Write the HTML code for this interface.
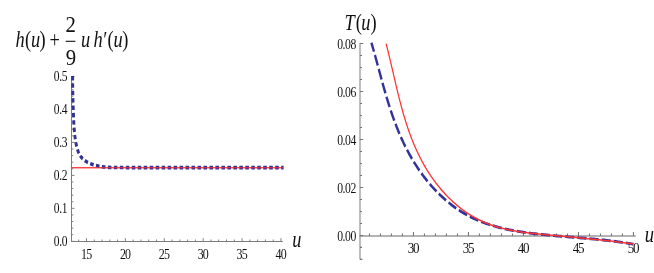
<!DOCTYPE html>
<html><head><meta charset="utf-8"><title>plots</title>
<style>
html,body{margin:0;padding:0;background:#fff;}
svg{display:block;will-change:transform;}
text{font-family:"Liberation Serif",serif;fill:#111;filter:grayscale(1);}
.tk{font-size:13.6px;}
.it{font-style:italic;}
</style></head><body>
<svg width="654" height="273" viewBox="0 0 654 273">
<rect width="654" height="273" fill="#fff"/>
<path d="M71.5 76.2 V242.0 M71.0 241.5 H282.8" stroke="#7c7c7c" stroke-width="1" fill="none"/>
<path d="M71.5 241.3 h3.0 M71.5 234.71 h1.8 M71.5 228.12 h1.8 M71.5 221.52 h1.8 M71.5 214.93 h1.8 M71.5 208.34 h3.0 M71.5 201.75 h1.8 M71.5 195.16 h1.8 M71.5 188.56 h1.8 M71.5 181.97 h1.8 M71.5 175.38 h3.0 M71.5 168.79 h1.8 M71.5 162.2 h1.8 M71.5 155.6 h1.8 M71.5 149.01 h1.8 M71.5 142.42 h3.0 M71.5 135.83 h1.8 M71.5 129.24 h1.8 M71.5 122.64 h1.8 M71.5 116.05 h1.8 M71.5 109.46 h3.0 M71.5 102.87 h1.8 M71.5 96.28 h1.8 M71.5 89.68 h1.8 M71.5 83.09 h1.8 M71.5 76.5 h3.0 M78.69 241.5 v-2.0 M86.47 241.5 v-3.3 M94.25 241.5 v-2.0 M102.03 241.5 v-2.0 M109.81 241.5 v-2.0 M117.59 241.5 v-2.0 M125.37 241.5 v-3.3 M133.15 241.5 v-2.0 M140.93 241.5 v-2.0 M148.71 241.5 v-2.0 M156.49 241.5 v-2.0 M164.27 241.5 v-3.3 M172.05 241.5 v-2.0 M179.83 241.5 v-2.0 M187.61 241.5 v-2.0 M195.39 241.5 v-2.0 M203.17 241.5 v-3.3 M210.95 241.5 v-2.0 M218.73 241.5 v-2.0 M226.51 241.5 v-2.0 M234.29 241.5 v-2.0 M242.07 241.5 v-3.3 M249.85 241.5 v-2.0 M257.63 241.5 v-2.0 M265.41 241.5 v-2.0 M273.19 241.5 v-2.0 M280.97 241.5 v-3.3" stroke="#808080" stroke-width="1" fill="none"/>
<text class="tk" style="letter-spacing:-0.42px" text-anchor="end" transform="translate(67.14 245.75) scale(0.85 1)">0.0</text>
<text class="tk" style="letter-spacing:-0.42px" text-anchor="end" transform="translate(67.14 212.79) scale(0.85 1)">0.1</text>
<text class="tk" style="letter-spacing:-0.42px" text-anchor="end" transform="translate(67.14 179.83) scale(0.85 1)">0.2</text>
<text class="tk" style="letter-spacing:-0.42px" text-anchor="end" transform="translate(67.14 146.87) scale(0.85 1)">0.3</text>
<text class="tk" style="letter-spacing:-0.42px" text-anchor="end" transform="translate(67.14 113.91) scale(0.85 1)">0.4</text>
<text class="tk" style="letter-spacing:-0.42px" text-anchor="end" transform="translate(67.14 80.95) scale(0.85 1)">0.5</text>
<text class="tk" style="letter-spacing:-0.95px" text-anchor="middle" transform="translate(86.15 258.8) scale(0.88 1)">15</text>
<text class="tk" style="letter-spacing:-0.95px" text-anchor="middle" transform="translate(125.05 258.8) scale(0.88 1)">20</text>
<text class="tk" style="letter-spacing:-0.95px" text-anchor="middle" transform="translate(163.95 258.8) scale(0.88 1)">25</text>
<text class="tk" style="letter-spacing:-0.95px" text-anchor="middle" transform="translate(202.85 258.8) scale(0.88 1)">30</text>
<text class="tk" style="letter-spacing:-0.95px" text-anchor="middle" transform="translate(241.75 258.8) scale(0.88 1)">35</text>
<text class="tk" style="letter-spacing:-0.95px" text-anchor="middle" transform="translate(280.65 258.8) scale(0.88 1)">40</text>
<text class="it" style="font-size:22.6px" text-anchor="start" transform="translate(292.3 246.6) scale(0.81 1)">u</text>
<path d="M71.3 167.7 H282.8" stroke="#fb3535" stroke-width="1.1" fill="none"/>
<g transform="scale(0.81 1)"><path d="M89.64 75.99 L89.65 76.96 L89.66 77.92 L89.67 78.89 L89.68 79.85 L89.69 80.81 L89.7 81.78 L89.71 82.74 L89.72 83.7 L89.74 84.66 L89.75 85.63 L89.77 86.59 L89.78 87.55 L89.8 88.51 L89.82 89.47 L89.83 90.44 L89.85 91.4 L89.88 92.36 L89.9 93.32 L89.92 94.28 L89.94 95.24 L89.97 96.2 L89.99 97.16 L90.02 98.12 L90.05 99.08 L90.08 100.04 L90.11 101 L90.14 101.96 L90.17 102.92 L90.21 103.88 L90.24 104.84 L90.28 105.8 L90.32 106.76 L90.36 107.72 L90.4 108.68 L90.44 109.63 L90.49 110.59 L90.53 111.55 L90.58 112.51 L90.63 113.47 L90.68 114.43 L90.73 115.39 L90.78 116.34 L90.83 117.3 L90.89 118.26 L90.95 119.22 L91.01 120.17 L91.07 121.13 L91.13 122.09 L91.19 123.05 L91.26 124 L91.33 124.96 L91.4 125.92 L91.47 126.88 L91.55 127.83 L91.63 128.79 L91.71 129.75 L91.8 130.71 L91.9 131.66 L92.01 132.62 L92.12 133.58 L92.24 134.53 L92.36 135.49 L92.5 136.45 L92.65 137.4 L92.81 138.36 L92.98 139.32 L93.16 140.27 L93.35 141.23 L93.56 142.19 L93.77 143.14 L94.01 144.1 L94.26 145.06 L94.52 146.01 L94.8 146.97 L95.11 147.92 L95.43 148.86 L95.79 149.8 L96.17 150.72 L96.58 151.64 L97.03 152.53 L97.51 153.41 L98.03 154.27 L98.6 155.1 L99.21 155.91 L99.87 156.69 L100.58 157.43 L101.33 158.14 L102.14 158.81 L103 159.45 L103.89 160.05 L104.83 160.63 L105.79 161.17 L106.8 161.68 L107.82 162.16 L108.88 162.61 L109.95 163.04 L111.04 163.44 L112.14 163.82 L113.25 164.17 L114.37 164.5 L115.5 164.81 L116.63 165.09 L117.76 165.36 L118.9 165.6 L120.04 165.83 L121.19 166.04 L122.34 166.23 L123.5 166.4 L124.66 166.56 L125.82 166.71 L126.99 166.84 L128.16 166.95 L129.33 167.05 L130.51 167.14 L131.69 167.22 L132.87 167.29 L134.05 167.35 L135.23 167.4 L136.42 167.44 L137.61 167.48 L138.8 167.5 L139.99 167.52 L141.18 167.54 L142.37 167.55 L143.57 167.56 L144.76 167.56 L145.96 167.57 L147.15 167.57 L148.34 167.57 L149.54 167.57 L150.73 167.57 L151.93 167.57 L153.12 167.57 L154.31 167.57 L155.51 167.57 L156.7 167.58 L157.89 167.58 L159.08 167.58 L160.27 167.58 L161.47 167.58 L162.66 167.58 L163.85 167.58 L165.04 167.58 L166.23 167.58 L167.42 167.58 L168.61 167.58 L169.8 167.58 L170.99 167.58 L172.18 167.58 L173.37 167.58 L174.56 167.59 L175.75 167.59 L176.94 167.59 L178.13 167.59 L179.32 167.59 L180.51 167.59 L181.7 167.59 L182.89 167.59 L184.08 167.59 L185.26 167.59 L186.45 167.59 L187.64 167.59 L188.83 167.59 L190.02 167.59 L191.2 167.59 L192.39 167.59 L193.58 167.59 L194.77 167.59 L195.95 167.59 L197.14 167.59 L198.33 167.59 L199.51 167.6 L200.7 167.6 L201.89 167.6 L203.07 167.6 L204.26 167.6 L205.44 167.6 L206.63 167.6 L207.82 167.6 L209 167.6 L210.19 167.6 L211.37 167.6 L212.56 167.6 L213.74 167.6 L214.93 167.6 L216.11 167.6 L217.3 167.6 L218.48 167.6 L219.67 167.6 L220.85 167.6 L222.04 167.6 L223.22 167.6 L224.41 167.6 L225.59 167.6 L226.78 167.6 L227.96 167.6 L229.14 167.6 L230.33 167.6 L231.51 167.6 L232.7 167.6 L233.88 167.6 L235.07 167.6 L236.25 167.6 L237.43 167.6 L238.62 167.6 L239.8 167.6 L240.99 167.6 L242.17 167.6 L243.35 167.6 L244.54 167.6 L245.72 167.6 L246.91 167.6 L248.09 167.6 L249.27 167.6 L250.46 167.6 L251.64 167.6 L252.82 167.6 L254.01 167.6 L255.19 167.6 L256.38 167.6 L257.56 167.6 L258.74 167.6 L259.93 167.6 L261.11 167.6 L262.29 167.6 L263.48 167.6 L264.66 167.6 L265.85 167.6 L267.03 167.6 L268.21 167.6 L269.4 167.6 L270.58 167.6 L271.77 167.6 L272.95 167.6 L274.13 167.6 L275.32 167.6 L276.5 167.6 L277.69 167.6 L278.87 167.6 L280.06 167.6 L281.24 167.6 L282.43 167.6 L283.61 167.6 L284.8 167.6 L285.98 167.6 L287.16 167.6 L288.35 167.6 L289.53 167.6 L290.72 167.6 L291.9 167.6 L293.09 167.6 L294.28 167.6 L295.46 167.6 L296.65 167.6 L297.83 167.6 L299.02 167.6 L300.2 167.6 L301.39 167.6 L302.58 167.6 L303.76 167.6 L304.95 167.6 L306.13 167.6 L307.32 167.6 L308.51 167.6 L309.69 167.6 L310.88 167.6 L312.07 167.6 L313.26 167.6 L314.44 167.6 L315.63 167.6 L316.82 167.6 L318.01 167.6 L319.19 167.6 L320.38 167.6 L321.57 167.6 L322.76 167.6 L323.95 167.6 L325.14 167.6 L326.32 167.6 L327.51 167.6 L328.7 167.6 L329.89 167.6 L331.08 167.6 L332.27 167.6 L333.46 167.6 L334.65 167.6 L335.84 167.6 L337.03 167.6 L338.22 167.6 L339.41 167.6 L340.6 167.6 L341.79 167.6 L342.99 167.6 L344.18 167.6 L345.37 167.6 L346.56 167.6 L347.75 167.6 L348.95 167.6 L350.14 167.6" stroke="#323298" stroke-width="3.6" stroke-dasharray="4.42 2.96" stroke-dashoffset="0.0" fill="none"/></g>
<path d="M71.3 167.7 H282.8" stroke="#fb3535" stroke-width="1.1" fill="none" opacity="0.85"/>
<text class="it" style="font-size:23.4px" text-anchor="start" transform="translate(15.4 47.3) scale(0.785 1)">h</text>
<text class="" style="font-size:23.4px" text-anchor="start" transform="translate(25 47.3) scale(0.785 1)">(</text>
<text class="it" style="font-size:23.4px" text-anchor="start" transform="translate(31 47.3) scale(0.785 1)">u</text>
<text class="" style="font-size:23.4px" text-anchor="start" transform="translate(39.6 47.3) scale(0.785 1)">)</text>
<text class="" style="font-size:23.4px" text-anchor="start" transform="translate(49.4 47.3) scale(0.785 1)">+</text>
<text class="" style="font-size:23.6px" text-anchor="start" transform="translate(65.4 31.5) scale(0.88 1)">2</text>
<text class="" style="font-size:23.6px" text-anchor="start" transform="translate(65.8 64.5) scale(0.88 1)">9</text>
<path d="M65.7 41.3 H75.4" stroke="#111" stroke-width="1.1"/>
<text class="it" style="font-size:23.4px" text-anchor="start" transform="translate(81 47.3) scale(0.785 1)">u</text>
<text class="it" style="font-size:23.4px" text-anchor="start" transform="translate(93.6 47.3) scale(0.785 1)">h</text>
<text class="it" style="font-size:23.4px" text-anchor="start" transform="translate(102.2 47.3) scale(0.785 1)">′</text>
<text class="" style="font-size:23.4px" text-anchor="start" transform="translate(107.6 47.3) scale(0.785 1)">(</text>
<text class="it" style="font-size:23.4px" text-anchor="start" transform="translate(113.4 47.3) scale(0.785 1)">u</text>
<text class="" style="font-size:23.4px" text-anchor="start" transform="translate(122.2 47.3) scale(0.785 1)">)</text>
<path d="M360.0 43.0 V259.6" stroke="#828282" stroke-width="1.05" fill="none"/>
<path d="M359.5 235.9 H635.8" stroke="#686868" stroke-width="1.05" fill="none"/>
<path d="M360.0 259.38 h2.4 M360.0 247.39 h2.0 M360.0 235.4 h3.2 M360.0 223.41 h2.0 M360.0 211.42 h2.0 M360.0 199.42 h2.0 M360.0 187.43 h3.2 M360.0 175.44 h2.0 M360.0 163.44 h2.0 M360.0 151.45 h2.0 M360.0 139.46 h3.2 M360.0 127.47 h2.0 M360.0 115.47 h2.0 M360.0 103.48 h2.0 M360.0 91.49 h3.2 M360.0 79.5 h2.0 M360.0 67.5 h2.0 M360.0 55.51 h2.0 M360.0 43.52 h3.2 M369.45 235.9 v-2.5 M380.45 235.9 v-2.5 M391.45 235.9 v-2.5 M402.45 235.9 v-2.5 M413.45 235.9 v-4.0 M424.45 235.9 v-2.5 M435.45 235.9 v-2.5 M446.45 235.9 v-2.5 M457.45 235.9 v-2.5 M468.45 235.9 v-4.0 M479.45 235.9 v-2.5 M490.45 235.9 v-2.5 M501.45 235.9 v-2.5 M512.45 235.9 v-2.5 M523.45 235.9 v-4.0 M534.45 235.9 v-2.5 M545.45 235.9 v-2.5 M556.45 235.9 v-2.5 M567.45 235.9 v-2.5 M578.45 235.9 v-4.0 M589.45 235.9 v-2.5 M600.45 235.9 v-2.5 M611.45 235.9 v-2.5 M622.45 235.9 v-2.5 M633.45 235.9 v-4.0" stroke="#747474" stroke-width="1.05" fill="none"/>
<text class="tk" style="letter-spacing:-0.5px" text-anchor="end" transform="translate(355.87 240.7) scale(0.86 1)">0.00</text>
<text class="tk" style="letter-spacing:-0.5px" text-anchor="end" transform="translate(355.87 192.73) scale(0.86 1)">0.02</text>
<text class="tk" style="letter-spacing:-0.5px" text-anchor="end" transform="translate(355.87 144.76) scale(0.86 1)">0.04</text>
<text class="tk" style="letter-spacing:-0.5px" text-anchor="end" transform="translate(355.87 96.79) scale(0.86 1)">0.06</text>
<text class="tk" style="letter-spacing:-0.5px" text-anchor="end" transform="translate(355.87 48.82) scale(0.86 1)">0.08</text>
<text class="tk" style="font-size:14.2px;letter-spacing:-1.4px" text-anchor="middle" transform="translate(412.91 253.2) scale(0.92 1)">30</text>
<text class="tk" style="font-size:14.2px;letter-spacing:-1.4px" text-anchor="middle" transform="translate(467.91 253.2) scale(0.92 1)">35</text>
<text class="tk" style="font-size:14.2px;letter-spacing:-1.4px" text-anchor="middle" transform="translate(522.91 253.2) scale(0.92 1)">40</text>
<text class="tk" style="font-size:14.2px;letter-spacing:-1.4px" text-anchor="middle" transform="translate(577.91 253.2) scale(0.92 1)">45</text>
<text class="tk" style="font-size:14.2px;letter-spacing:-1.4px" text-anchor="middle" transform="translate(632.91 253.2) scale(0.92 1)">50</text>
<text class="it" style="font-size:22.6px" text-anchor="start" transform="translate(644.7 241.5) scale(0.82 1)">u</text>
<g transform="scale(0.83 1)"><path d="M447.5 42.71 L448.06 44.31 L448.62 45.91 L449.17 47.51 L449.72 49.11 L450.26 50.72 L450.81 52.33 L451.35 53.94 L451.89 55.56 L452.42 57.18 L452.96 58.8 L453.49 60.43 L454.02 62.06 L454.55 63.68 L455.08 65.32 L455.62 66.95 L456.15 68.59 L456.68 70.22 L457.21 71.86 L457.75 73.5 L458.28 75.14 L458.82 76.78 L459.36 78.43 L459.9 80.07 L460.44 81.71 L460.99 83.36 L461.54 85 L462.1 86.65 L462.66 88.29 L463.22 89.94 L463.79 91.58 L464.36 93.23 L464.94 94.87 L465.53 96.51 L466.12 98.15 L466.71 99.79 L467.32 101.43 L467.93 103.07 L468.54 104.71 L469.17 106.34 L469.8 107.97 L470.44 109.61 L471.09 111.23 L471.75 112.86 L472.42 114.49 L473.09 116.11 L473.78 117.73 L474.48 119.34 L475.18 120.95 L475.9 122.56 L476.63 124.17 L477.37 125.77 L478.12 127.37 L478.89 128.97 L479.66 130.56 L480.45 132.15 L481.25 133.73 L482.07 135.31 L482.89 136.89 L483.74 138.46 L484.59 140.02 L485.46 141.58 L486.35 143.14 L487.25 144.69 L488.17 146.23 L489.1 147.77 L490.05 149.3 L491.01 150.83 L491.99 152.35 L492.98 153.87 L494 155.37 L495.02 156.87 L496.06 158.37 L497.12 159.85 L498.19 161.33 L499.28 162.79 L500.39 164.25 L501.51 165.7 L502.64 167.15 L503.79 168.58 L504.96 170 L506.14 171.41 L507.33 172.81 L508.55 174.2 L509.77 175.58 L511.02 176.95 L512.27 178.31 L513.55 179.65 L514.84 180.99 L516.14 182.31 L517.46 183.62 L518.79 184.91 L520.14 186.19 L521.5 187.46 L522.88 188.72 L524.28 189.96 L525.69 191.19 L527.11 192.4 L528.55 193.6 L530 194.78 L531.47 195.94 L532.96 197.09 L534.46 198.23 L535.97 199.35 L537.5 200.45 L539.04 201.54 L540.6 202.6 L542.17 203.65 L543.76 204.69 L545.36 205.7 L546.98 206.7 L548.61 207.68 L550.26 208.63 L551.92 209.57 L553.6 210.49 L555.29 211.4 L556.99 212.28 L558.71 213.14 L560.44 213.98 L562.19 214.8 L563.96 215.59 L565.73 216.37 L567.52 217.13 L569.33 217.86 L571.15 218.58 L572.98 219.28 L574.82 219.95 L576.67 220.61 L578.54 221.25 L580.42 221.87 L582.31 222.47 L584.21 223.05 L586.12 223.62 L588.05 224.16 L589.98 224.69 L591.92 225.21 L593.87 225.71 L595.83 226.19 L597.8 226.65 L599.78 227.1 L601.76 227.53 L603.76 227.95 L605.76 228.36 L607.76 228.75 L609.78 229.12 L611.8 229.48 L613.82 229.83 L615.86 230.17 L617.89 230.49 L619.94 230.8 L621.98 231.1 L624.04 231.39 L626.09 231.66 L628.15 231.93 L630.21 232.19 L632.28 232.44 L634.35 232.67 L636.42 232.91 L638.49 233.13 L640.57 233.34 L642.65 233.55 L644.72 233.76 L646.8 233.95 L648.88 234.14 L650.96 234.33 L653.04 234.51 L655.12 234.69 L657.2 234.86 L659.27 235.03 L661.35 235.19 L663.43 235.35 L665.5 235.51 L667.58 235.67 L669.65 235.82 L671.73 235.97 L673.8 236.12 L675.87 236.27 L677.94 236.41 L680.01 236.56 L682.08 236.7 L684.15 236.84 L686.21 236.98 L688.28 237.12 L690.34 237.26 L692.4 237.4 L694.46 237.54 L696.52 237.68 L698.58 237.83 L700.63 237.97 L702.68 238.11 L704.73 238.26 L706.78 238.41 L708.83 238.56 L710.87 238.71 L712.92 238.86 L714.96 239.02 L716.99 239.18 L719.03 239.34 L721.06 239.51 L723.09 239.68 L725.12 239.85 L727.14 240.03 L729.16 240.22 L731.18 240.4 L733.2 240.6 L735.21 240.79 L737.22 241 L739.23 241.21 L741.23 241.42 L743.24 241.64 L745.23 241.87 L747.23 242.1 L749.22 242.34 L751.2 242.59 L753.19 242.85 L755.17 243.11 L757.14 243.38 L759.12 243.66 L761.09 243.95 L763.05 244.24" stroke="#323298" stroke-width="2.85" stroke-dasharray="11.0 3.65" stroke-dashoffset="1.6" fill="none"/><path d="M465.19 43.65 L465.68 45.21 L466.16 46.78 L466.64 48.35 L467.12 49.92 L467.59 51.5 L468.06 53.08 L468.52 54.67 L468.99 56.26 L469.45 57.85 L469.9 59.45 L470.36 61.04 L470.81 62.65 L471.26 64.25 L471.72 65.85 L472.17 67.46 L472.62 69.07 L473.06 70.69 L473.51 72.3 L473.96 73.92 L474.41 75.53 L474.87 77.15 L475.32 78.77 L475.77 80.39 L476.23 82.01 L476.69 83.64 L477.15 85.26 L477.61 86.88 L478.08 88.51 L478.55 90.13 L479.02 91.75 L479.5 93.38 L479.99 95 L480.47 96.63 L480.96 98.25 L481.46 99.87 L481.96 101.49 L482.47 103.11 L482.99 104.73 L483.51 106.35 L484.04 107.96 L484.57 109.58 L485.11 111.19 L485.66 112.8 L486.22 114.41 L486.79 116.01 L487.36 117.62 L487.95 119.22 L488.54 120.82 L489.14 122.41 L489.75 124 L490.37 125.59 L491.01 127.18 L491.65 128.76 L492.3 130.34 L492.97 131.91 L493.65 133.48 L494.34 135.05 L495.04 136.61 L495.75 138.17 L496.48 139.73 L497.22 141.27 L497.97 142.82 L498.74 144.36 L499.52 145.89 L500.31 147.42 L501.12 148.94 L501.95 150.46 L502.79 151.97 L503.64 153.48 L504.51 154.98 L505.4 156.47 L506.3 157.96 L507.23 159.44 L508.16 160.91 L509.12 162.38 L510.09 163.84 L511.08 165.29 L512.09 166.74 L513.12 168.18 L514.16 169.61 L515.22 171.03 L516.3 172.44 L517.4 173.85 L518.52 175.24 L519.65 176.63 L520.8 178 L521.97 179.37 L523.15 180.72 L524.36 182.06 L525.57 183.4 L526.81 184.72 L528.06 186.03 L529.33 187.32 L530.62 188.6 L531.92 189.87 L533.24 191.13 L534.57 192.37 L535.93 193.6 L537.29 194.82 L538.68 196.02 L540.08 197.2 L541.49 198.37 L542.92 199.53 L544.37 200.67 L545.83 201.79 L547.31 202.89 L548.8 203.98 L550.31 205.05 L551.83 206.11 L553.37 207.14 L554.92 208.16 L556.49 209.16 L558.07 210.14 L559.67 211.1 L561.28 212.04 L562.91 212.96 L564.55 213.86 L566.2 214.74 L567.87 215.59 L569.55 216.43 L571.25 217.25 L572.96 218.04 L574.69 218.81 L576.42 219.56 L578.18 220.28 L579.94 220.98 L581.72 221.66 L583.51 222.32 L585.32 222.95 L587.13 223.55 L588.96 224.14 L590.81 224.7 L592.66 225.24 L594.53 225.76 L596.4 226.26 L598.29 226.74 L600.18 227.19 L602.09 227.63 L604.01 228.06 L605.93 228.46 L607.86 228.85 L609.81 229.22 L611.75 229.58 L613.71 229.92 L615.68 230.24 L617.65 230.55 L619.62 230.85 L621.61 231.14 L623.6 231.41 L625.59 231.67 L627.59 231.92 L629.6 232.16 L631.6 232.39 L633.62 232.61 L635.63 232.82 L637.65 233.03 L639.67 233.22 L641.7 233.41 L643.72 233.6 L645.75 233.77 L647.78 233.94 L649.81 234.11 L651.84 234.27 L653.87 234.43 L655.9 234.59 L657.93 234.74 L659.96 234.9 L661.98 235.05 L664.01 235.2 L666.03 235.35 L668.06 235.5 L670.08 235.65 L672.09 235.8 L674.11 235.95 L676.12 236.11 L678.13 236.26 L680.14 236.41 L682.15 236.57 L684.16 236.72 L686.16 236.87 L688.17 237.03 L690.17 237.19 L692.17 237.34 L694.16 237.5 L696.16 237.66 L698.15 237.82 L700.15 237.98 L702.14 238.14 L704.13 238.31 L706.12 238.47 L708.1 238.64 L710.09 238.8 L712.07 238.97 L714.06 239.14 L716.04 239.31 L718.02 239.49 L720 239.66 L721.97 239.84 L723.95 240.01 L725.92 240.19 L727.9 240.38 L729.87 240.56 L731.84 240.74 L733.81 240.93 L735.78 241.12 L737.75 241.31 L739.72 241.51 L741.68 241.7 L743.65 241.9 L745.61 242.1 L747.58 242.31 L749.54 242.51 L751.5 242.72 L753.46 242.93 L755.42 243.14 L757.38 243.36 L759.34 243.58 L761.3 243.8 L763.26 244.03" stroke="#fb3535" stroke-width="1.5" fill="none"/></g>
<text class="it" style="font-size:23.4px" text-anchor="start" transform="translate(344.4 30.4) scale(0.785 1)">T</text>
<text class="" style="font-size:23.4px" text-anchor="start" transform="translate(355.7 30.4) scale(0.785 1)">(</text>
<text class="it" style="font-size:23.4px" text-anchor="start" transform="translate(361.2 30.4) scale(0.785 1)">u</text>
<text class="" style="font-size:23.4px" text-anchor="start" transform="translate(370.4 30.4) scale(0.785 1)">)</text>
</svg>
</body></html>
